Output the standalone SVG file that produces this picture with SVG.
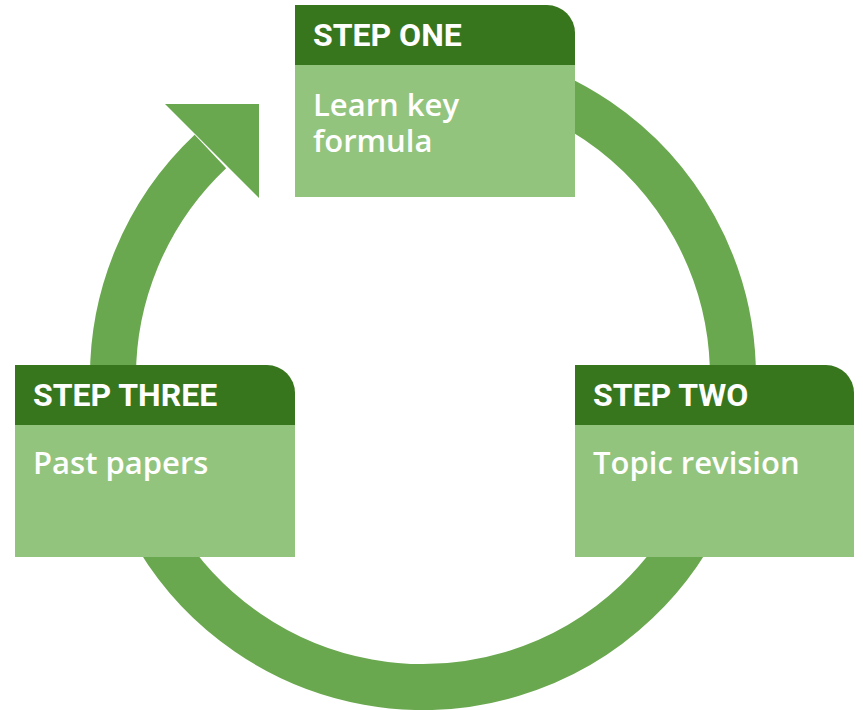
<svg xmlns="http://www.w3.org/2000/svg" width="863" height="710" viewBox="0 0 863 710">
<style>
.ring{fill:none;stroke:#6aa84f;stroke-width:46}
.head{fill:#38761d}
.body{fill:#93c47d}
.ht{font-family:Roboto,"Liberation Sans",sans-serif;font-weight:700;font-size:32px;fill:#ffffff}
.bt{font-family:"Open Sans","Liberation Sans",sans-serif;font-weight:600;font-size:31px;fill:#ffffff}
</style>
<rect width="863" height="710" fill="#ffffff"/>
<g id="connectors">
<path class="ring" d="M 476.8 71.7 A 310 310 0 1 1 210.4 151.4"/>
<polygon points="165,104 259,104 259,198" fill="#6aa84f"/>
</g>
<g id="step-one">
<path class="head" d="M295 5 H547 A28 28 0 0 1 575 33 V65 H295 Z"/>
<rect class="body" x="295" y="65" width="280" height="132"/>
<text class="ht" x="313" y="46">STEP ONE</text>
<text class="bt"><tspan x="313" y="116">Learn key</tspan><tspan x="313" y="152">formula</tspan></text>
</g>
<g id="step-two">
<path class="head" d="M575 365 H826 A28 28 0 0 1 854 393 V425 H575 Z"/>
<rect class="body" x="575" y="425" width="279" height="132"/>
<text class="ht" x="593" y="406">STEP TWO</text>
<text class="bt" x="593" y="474">Topic revision</text>
</g>
<g id="step-three">
<path class="head" d="M15 365 H267 A28 28 0 0 1 295 393 V425 H15 Z"/>
<rect class="body" x="15" y="425" width="280" height="132"/>
<text class="ht" x="33" y="406">STEP THREE</text>
<text class="bt" x="33" y="474">Past papers</text>
</g>
</svg>
